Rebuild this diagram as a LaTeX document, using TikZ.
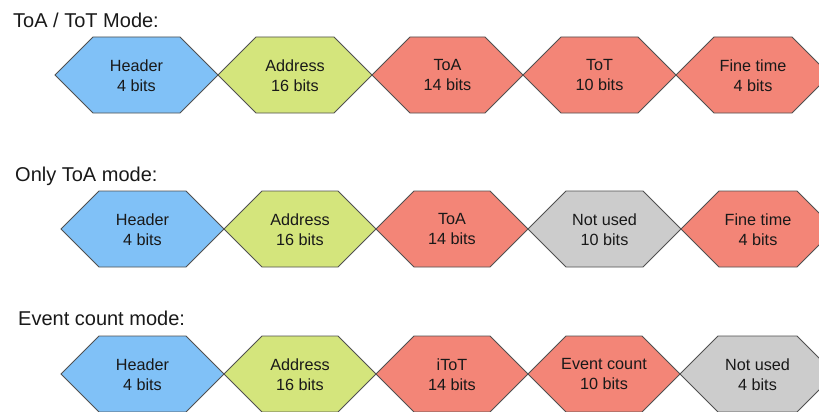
\documentclass[tikz,border=0pt]{standalone}
\usepackage{fontspec}
\setmainfont{Liberation Sans}

\definecolor{hdrblue}{RGB}{128,193,247}
\definecolor{addrgreen}{RGB}{212,229,124}
\definecolor{datared}{RGB}{243,133,119}
\definecolor{unusedgray}{RGB}{204,204,204}
\definecolor{edgegray}{RGB}{80,80,80}
\definecolor{inkblack}{RGB}{25,25,25}

\def\hexcut{38}

% one field of a data word: name, left tip, right tip, mid line, fill, label
\newcommand{\hexcell}[6]{%
  \draw[cellborder, fill=#5]
    (#2,#4) -- ({#2+\hexcut},{#4-\hexcut}) -- ({#3-\hexcut},{#4-\hexcut})
    -- (#3,#4) -- ({#3-\hexcut},{#4+\hexcut}) -- ({#2+\hexcut},{#4+\hexcut}) -- cycle;
  \node[celltext] (#1) at ({(#2+#3)/2},{#4+0.5}) {#6};
}

\tikzset{
  cellborder/.style={draw=edgegray, line width=0.8pt, line join=miter},
  celltext/.style={align=center, inner sep=0pt, text=inkblack,
    font=\fontsize{16.2}{20}\selectfont},
  modetitle/.style={anchor=base west, inner sep=0pt, text=inkblack,
    font=\fontsize{20}{24}\selectfont},
}

\begin{document}
\begin{tikzpicture}[x=1pt, y=-1pt]
  \useasboundingbox (0,0) rectangle (819,412);
  \clip (0,0) rectangle (819,412);
  \fill[white] (0,0) rectangle (819,412);

  % ToA / ToT mode
  \node[modetitle] (t1) at (13,28) {ToA / ToT Mode:};
  \hexcell{a1}{55}{218}{75}{hdrblue}{Header\\4 bits}
  \hexcell{a2}{218}{372}{75}{addrgreen}{Address\\16 bits}
  \hexcell{a3}{372}{523}{75}{datared}{ToA\\14 bits}
  \hexcell{a4}{523}{676}{75}{datared}{ToT\\10 bits}
  \hexcell{a5}{676}{830}{75}{datared}{Fine time\\4 bits}

  % Only ToA mode
  \node[modetitle] (t2) at (15,181) {Only ToA mode:};
  \hexcell{b1}{61}{224}{229}{hdrblue}{Header\\4 bits}
  \hexcell{b2}{224}{376}{229}{addrgreen}{Address\\16 bits}
  \hexcell{b3}{376}{528}{229}{datared}{ToA\\14 bits}
  \hexcell{b4}{528}{681}{229}{unusedgray}{Not used\\10 bits}
  \hexcell{b5}{681}{835}{229}{datared}{Fine time\\4 bits}

  % Event count mode
  \node[modetitle] (t3) at (18,325) {Event count mode:};
  \hexcell{c1}{61}{224}{374}{hdrblue}{Header\\4 bits}
  \hexcell{c2}{224}{376}{374}{addrgreen}{Address\\16 bits}
  \hexcell{c3}{376}{528}{374}{datared}{iToT\\14 bits}
  \hexcell{c4}{528}{680}{374}{datared}{Event count\\10 bits}
  \hexcell{c5}{680}{835}{374}{unusedgray}{Not used\\4 bits}
\end{tikzpicture}
\end{document}
